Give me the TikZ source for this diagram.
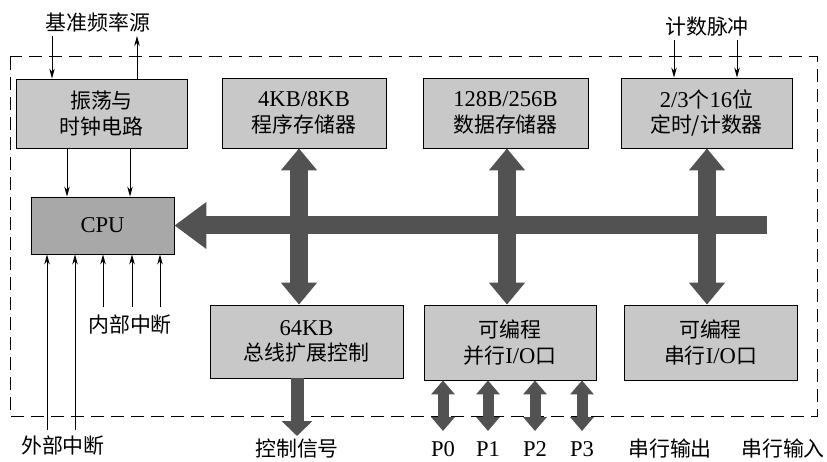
\documentclass[tikz,border=0pt]{standalone}
\usepackage{fontspec}
\setmainfont{Liberation Serif}[Scale=1.08]
\newfontfamily\cjk{Noto Sans CJK SC}
\usetikzlibrary{arrows.meta,calc}
\newcommand\zh[1]{{\cjk #1}}
\definecolor{boxgray}{HTML}{C8C8C8}
\definecolor{cpugray}{HTML}{A8A8A8}
\definecolor{busgray}{HTML}{525252}
\begin{document}
\begin{tikzpicture}[x=1bp,y=-1bp,
  txt/.style={font=\fontsize{21}{25.5}\selectfont, inner sep=0pt, align=center},
  box/.style={txt, draw=black, line width=0.9bp, fill=boxgray},
  sig/.style={line width=0.8bp, -{Stealth[length=10bp,width=5.5bp]}},
  bus/.style={busgray, line width=18bp, -{Triangle[width=45bp,length=32bp]}},
  vbus/.style={busgray, line width=18bp, {Triangle[width=35bp,length=22bp]}-{Triangle[width=35bp,length=22bp]}},
  ctl/.style={busgray, line width=13bp, -{Triangle[width=30bp,length=15bp]}},
  port/.style={busgray, line width=11bp, {Triangle[width=23bp,length=14bp]}-{Triangle[width=23bp,length=14bp]}},
  frame/.style={line width=1bp, dash pattern=on 13bp off 7bp}
]
\useasboundingbox (0,0) rectangle (827,462);
% frame
\draw[frame] (10,57) rectangle (817,416);
% boxes
\node[box, minimum width=171bp, minimum height=69bp] (osc) at (101.5,113.5) {\zh{振荡与}\\\zh{时钟电路}};
\node[box, minimum width=164bp, minimum height=70bp] (prog) at (304,113) {4KB/8KB\\\zh{程序存储器}};
\node[box, minimum width=165bp, minimum height=70bp] (data) at (505.5,113) {128B/256B\\\zh{数据存储器}};
\node[box, minimum width=171bp, minimum height=70bp] (timer) at (706.5,113) {2/3\zh{个}16\zh{位}\\\zh{定时/计数器}};
\node[box, fill=cpugray, minimum width=143bp, minimum height=57bp] (cpu) at (102.5,225.5) {CPU};
\node[box, minimum width=193bp, minimum height=73bp] (ext) at (306.5,341.5) {64KB\\\zh{总线扩展控制}};
\node[box, minimum width=172bp, minimum height=75bp] (par) at (510,342.5) {\zh{可编程}\\\zh{并行}I/O\zh{口}};
\node[box, minimum width=173bp, minimum height=75bp] (ser) at (710.5,342.5) {\zh{可编程}\\\zh{串行}I/O\zh{口}};
% labels
\node[txt] (ref) at (98,23) {\zh{基准频率源}};
\node[txt] (cnt) at (707,27) {\zh{计数脉冲}};
\node[txt] (inner) at (130,325) {\zh{内部中断}};
\node[txt] (outer) at (63,446) {\zh{外部中断}};
\node[txt] (ctrl) at (297,449) {\zh{控制信号}};
\node[txt] (p0) at (443,449) {P0};
\node[txt] (p1) at (488,449) {P1};
\node[txt] (p2) at (535,449) {P2};
\node[txt] (p3) at (582,449) {P3};
\node[txt] (sout) at (670,449) {\zh{串行输出}};
\node[txt] (sin) at (783,449) {\zh{串行输入}};
% helper coordinates
\coordinate (r1) at (52,36);
\coordinate (r2) at (137,36);
\coordinate (c1) at (674,40);
\coordinate (c2) at (737,40);
\coordinate (k1) at (67,0);
\coordinate (k2) at (130,0);
\coordinate (e1) at (47,430);
\coordinate (e2) at (75,430);
\coordinate (i1) at (103,307);
\coordinate (i2) at (132,307);
\coordinate (i3) at (160,307);
\coordinate (busx) at (767,0);
\coordinate (v1) at (299,0);
\coordinate (v2) at (507,0);
\coordinate (v3) at (707,0);
\coordinate (cx) at (297,436);
\coordinate (q0) at (443,431);
\coordinate (q1) at (488,431);
\coordinate (q2) at (535,431);
\coordinate (q3) at (582,431);
% thin signal arrows
\draw[sig] (r1) -- (r1 |- osc.north);
\draw[sig] (r2 |- osc.north) -- (r2);
\draw[sig] (c1) -- (c1 |- timer.north);
\draw[sig] (c2) -- (c2 |- timer.north);
\draw[sig] (osc.south -| k1) -- (cpu.north -| k1);
\draw[sig] (osc.south -| k2) -- (cpu.north -| k2);
\draw[sig] (e1) -- (e1 |- cpu.south);
\draw[sig] (e2) -- (e2 |- cpu.south);
\draw[sig] (i1) -- (i1 |- cpu.south);
\draw[sig] (i2) -- (i2 |- cpu.south);
\draw[sig] (i3) -- (i3 |- cpu.south);
% buses
\draw[bus] (cpu.east -| busx) -- (cpu.east);
\draw[vbus] (prog.south -| v1) -- (ext.north -| v1);
\draw[vbus] (data.south -| v2) -- (par.north -| v2);
\draw[vbus] (timer.south -| v3) -- (ser.north -| v3);
\draw[ctl] (ext.south -| cx) -- (cx);
\draw[port] (par.south -| q0) -- (q0);
\draw[port] (par.south -| q1) -- (q1);
\draw[port] (par.south -| q2) -- (q2);
\draw[port] (par.south -| q3) -- (q3);
\end{tikzpicture}
\end{document}
